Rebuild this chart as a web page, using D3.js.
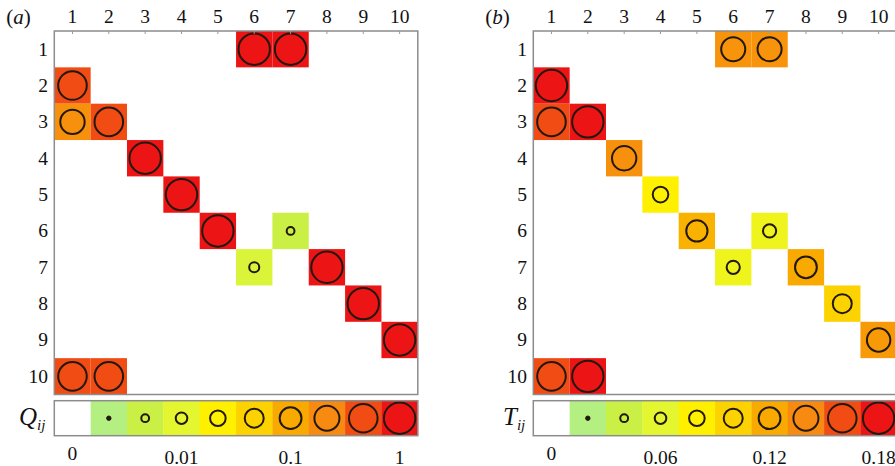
<!DOCTYPE html>
<html><head><meta charset="utf-8">
<script src="https://cdn.jsdelivr.net/npm/d3@7"></script>
<style>
html,body{margin:0;padding:0;background:#fff;}
</style></head>
<body>
<svg id="chart" width="895" height="466" font-family="'Liberation Serif', 'Times New Roman', Times, serif"></svg>
<script>
// ---- data ----
const indices = [1,2,3,4,5,6,7,8,9,10];
const legendLevels = [0,1,2,3,4,5,6,7,8,9];
// cells: [row, col, level] ; level 1..9 on legend scale
const qCells = [
  [1,6,9],[1,7,9],
  [2,1,8],
  [3,1,6.8],[3,2,8],
  [4,3,9],
  [5,4,9],
  [6,5,9],[6,7,2.0],
  [7,6,2.6],[7,8,9],
  [8,9,9],
  [9,10,9],
  [10,1,8],[10,2,8]
];
const tCells = [
  [1,6,6.7],[1,7,6.7],
  [2,1,9],
  [3,1,8],[3,2,9],
  [4,3,6.8],
  [5,4,4],
  [6,5,5.8],[6,7,3.4],
  [7,6,3.4],[7,8,6],
  [8,9,5],
  [9,10,6.5],
  [10,1,8],[10,2,9]
];
const qTickLabels = ["0","0.01","0.1","1"];
const tTickLabels = ["0","0.06","0.12","0.18"];
const tickLevels = [0,3,6,9];

// ---- scales ----
const levelDomain = [1,2,3,4,5,6,7,8,9];
const color = d3.scaleLinear().domain(levelDomain)
  .range(["#b4ef82","#caf046","#e4f630","#fff000","#fcd200","#f9aa00","#f78a10","#f04c14","#ec1414"]);
const radius = d3.scaleLinear().domain(levelDomain)
  .range([2.2,3.9,5.8,7.8,9.5,10.9,12.5,14.3,15.7]);

const svg = d3.select("#chart");
const cell = 36.35;
const panels = [
  {x0:54.3, letter:"a", sym:"Q", cells:qCells, ticks:qTickLabels, symX:19, rowLabX:48},
  {x0:533.3, letter:"b", sym:"T", cells:tCells, ticks:tTickLabels, symX:503, rowLabX:527}
];
const y0 = 31, lgY = 400.7, lgH = 35;

panels.forEach(p => {
  const g = svg.append("g");
  const x = d3.scaleBand().domain(indices).range([p.x0, p.x0 + cell*10]);
  const y = d3.scaleBand().domain(indices).range([y0, y0 + cell*10]);
  const lx = d3.scaleBand().domain(legendLevels).range([p.x0, p.x0 + cell*10]);

  g.append("rect").attr("x",p.x0).attr("y",y0).attr("width",cell*10).attr("height",cell*10)
    .attr("fill","#fff");
  g.selectAll("rect.cell").data(p.cells).join("rect").attr("class","cell")
    .attr("x",d=>x(d[1])).attr("y",d=>y(d[0]))
    .attr("width",x.bandwidth()).attr("height",y.bandwidth())
    .attr("fill",d=>color(d[2]));
  g.selectAll("circle.cc").data(p.cells).join("circle").attr("class","cc")
    .attr("cx",d=>x(d[1])+x.bandwidth()/2).attr("cy",d=>y(d[0])+y.bandwidth()/2)
    .attr("r",d=>radius(d[2]))
    .attr("fill",d=>d[2]<=1.3?"#1e1a12":"none")
    .attr("stroke","#22180e").attr("stroke-width",2);
  g.append("rect").attr("x",p.x0).attr("y",y0).attr("width",cell*10).attr("height",cell*10)
    .attr("fill","none").attr("stroke","#8c8c8c").attr("stroke-width",1.5);
  g.selectAll("line.tt").data(indices).join("line").attr("class","tt")
    .attr("x1",d=>x(d)+x.bandwidth()/2).attr("x2",d=>x(d)+x.bandwidth()/2)
    .attr("y1",y0).attr("y2",y0+3).attr("stroke","#999").attr("stroke-width",1);
  g.selectAll("text.col").data(indices).join("text").attr("class","col")
    .attr("x",d=>x(d)+x.bandwidth()/2).attr("y",23)
    .attr("text-anchor","middle").attr("font-size",19.5).attr("fill","#111").text(d=>d);
  g.selectAll("text.row").data(indices).join("text").attr("class","row")
    .attr("x",p.rowLabX).attr("y",d=>y(d)+y.bandwidth()/2+6.5)
    .attr("text-anchor","end").attr("font-size",19.5).attr("fill","#111").text(d=>d);
  const lt = g.append("text").attr("x",p.x0-48).attr("y",24).attr("font-size",21).attr("fill","#111");
  lt.append("tspan").text("(");
  lt.append("tspan").attr("font-style","italic").text(p.letter);
  lt.append("tspan").text(")");

  g.selectAll("rect.lg").data(legendLevels).join("rect").attr("class","lg")
    .attr("x",d=>lx(d)).attr("y",lgY).attr("width",lx.bandwidth()+0.3).attr("height",lgH)
    .attr("fill",d=>d===0?"#fff":color(d));
  g.selectAll("circle.lc").data(legendLevels.filter(d=>d>0)).join("circle").attr("class","lc")
    .attr("cx",d=>lx(d)+lx.bandwidth()/2).attr("cy",lgY+lgH/2)
    .attr("r",d=>radius(d))
    .attr("fill",d=>d===1?"#1e1a12":"none")
    .attr("stroke","#22180e").attr("stroke-width",d=>d===1?1:2);
  g.append("rect").attr("x",p.x0).attr("y",lgY).attr("width",cell*10).attr("height",lgH)
    .attr("fill","none").attr("stroke","#8c8c8c").attr("stroke-width",1.5);
  const st = g.append("text").attr("x",p.symX).attr("y",lgY+lgH/2+7).attr("font-size",25)
    .attr("font-style","italic").attr("fill","#111");
  st.append("tspan").text(p.sym);
  st.append("tspan").attr("font-size",15).attr("dy",5).text("ij");
  g.selectAll("text.lt").data(tickLevels).join("text").attr("class","lt")
    .attr("x",(d)=>lx(d)+lx.bandwidth()/2).attr("y",(d)=>d===0?460:463.5)
    .attr("text-anchor","middle").attr("font-size",19.5).attr("fill","#111")
    .text((d,i)=>p.ticks[i]);
});
</script>
</body></html>
